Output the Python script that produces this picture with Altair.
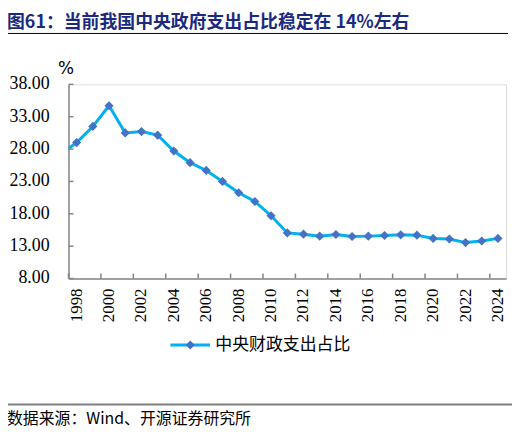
import altair as alt
import pandas as pd

# ---- data ----
years = list(range(1997, 2025))
share = [27.2, 29.0, 31.5, 34.7, 30.5, 30.7, 30.15, 27.7, 25.9, 24.7, 23.0,
         21.25, 19.9, 17.7, 15.05, 14.85, 14.55, 14.8, 14.5, 14.55, 14.65,
         14.75, 14.7, 14.2, 14.1, 13.55, 13.8, 14.2]
x_label_years = list(range(1998, 2025, 2))
x_tick_bounds = [1997.5 + 2 * k for k in range(14)]
y_ticks = [8, 13, 18, 23, 28, 33, 38]

title_text = "图61：当前我国中央政府支出占比稳定在 14%左右"
series_name = "中央财政支出占比"
source_text = "数据来源：Wind、开源证券研究所"

W, H = 441, 195.7
AXIS_GRAY = "#868686"
LINE_COLOR = "#00B0F0"
MARK_COLOR = "#4472C4"
CJK = "Noto Sans CJK SC"
SERIF = "Liberation Serif"

df = pd.DataFrame({"year": years, "share": share})
pts = df[df["year"] >= 1998]

xscale = alt.Scale(domain=[1997.5, 2024.5], nice=False, zero=False)
yscale = alt.Scale(domain=[8, 38], nice=False, zero=False)

xaxis = alt.Axis(values=x_label_years, labels=False, ticks=False, grid=False,
                 domainColor=AXIS_GRAY, domainWidth=1.5, title=None)
yaxis = alt.Axis(values=y_ticks, labels=False, ticks=False, grid=False,
                 domainColor=AXIS_GRAY, domainWidth=1.5,
                 title="%", titleAngle=0, titleX=-3, titleY=-16,
                 titleAlign="center", titleBaseline="middle",
                 titleFont="DejaVu Sans", titleFontSize=17,
                 titleFontWeight="normal", titleColor="#000000")

line = alt.Chart(df).mark_line(color=LINE_COLOR, strokeWidth=3, clip=True).encode(
    x=alt.X("year:Q", scale=xscale, axis=xaxis),
    y=alt.Y("share:Q", scale=yscale, axis=yaxis),
)
points = alt.Chart(pts).mark_point(shape="diamond", filled=True, color=MARK_COLOR,
                                   size=85, opacity=1).encode(
    x=alt.X("year:Q", scale=xscale, axis=xaxis),
    y=alt.Y("share:Q", scale=yscale, axis=yaxis),
)

# tick marks (inward) and tick labels, positioned through the scales
xt = alt.Chart(pd.DataFrame({"b": x_tick_bounds})).mark_rule(
    color=AXIS_GRAY, strokeWidth=1.5).encode(
    x=alt.X("b:Q", scale=xscale, axis=xaxis), y=alt.value(H - 5), y2=alt.value(H))
yt = alt.Chart(pd.DataFrame({"v": y_ticks})).mark_rule(
    color=AXIS_GRAY, strokeWidth=1.5).encode(
    y=alt.Y("v:Q", scale=yscale, axis=yaxis), x=alt.value(0), x2=alt.value(5))

xl = alt.Chart(pd.DataFrame({"yr": x_label_years})).mark_text(
    angle=270, align="right", baseline="middle", font=SERIF, fontSize=17,
    color="#000000").encode(
    x=alt.X("yr:Q", scale=xscale, axis=xaxis), y=alt.value(H + 10),
    text=alt.Text("yr:Q", format="d"))
yl = alt.Chart(pd.DataFrame({"v": y_ticks})).mark_text(
    align="right", baseline="middle", font=SERIF, fontSize=18,
    color="#000000").encode(
    y=alt.Y("v:Q", scale=yscale, axis=yaxis), x=alt.value(-19),
    text=alt.Text("v:Q", format=".2f"))

one = pd.DataFrame({"t": [title_text]})
title = alt.Chart(one).mark_text(align="left", baseline="middle", font=CJK,
                                 fontSize=18, fontWeight="bold", color="#1B2A7E").encode(
    text="t:N", x=alt.value(-62), y=alt.value(-61.8))
title_rule = alt.Chart(one).mark_rule(color="#000000", strokeWidth=1).encode(
    x=alt.value(-63), x2=alt.value(443), y=alt.value(-51.3))

leg = pd.DataFrame({"t": [series_name]})
leg_line = alt.Chart(leg).mark_rule(color=LINE_COLOR, strokeWidth=3).encode(
    x=alt.value(102.7), x2=alt.value(142.7), y=alt.value(262.7))
leg_pt = alt.Chart(leg).mark_point(shape="diamond", filled=True, color=MARK_COLOR,
                                   size=85, opacity=1).encode(
    x=alt.value(122.7), y=alt.value(262.7))
leg_txt = alt.Chart(leg).mark_text(align="left", baseline="middle", font=CJK,
                                   fontSize=17, color="#000000").encode(
    text="t:N", x=alt.value(148), y=alt.value(262.7))

src = pd.DataFrame({"t": [source_text]})
foot_rule = alt.Chart(src).mark_rule(color="#7F7F7F", strokeWidth=2).encode(
    x=alt.value(-63), x2=alt.value(447), y=alt.value(322.7))
foot_txt = alt.Chart(src).mark_text(align="left", baseline="middle", font=CJK,
                                    fontSize=16, color="#000000").encode(
    text="t:N", x=alt.value(-62), y=alt.value(337.2))

chart = alt.layer(line, points, xt, yt, xl, yl, title, title_rule, leg_line,
                  leg_pt, leg_txt, foot_rule, foot_txt).properties(
    width=W, height=H,
    autosize=alt.AutoSizeParams(type="none"),
    padding={"left": 61, "top": 75.3, "right": 8, "bottom": 150},
).configure_view(stroke=None).configure(background="#FFFFFF")

chart.save("out.html", embed_options={"renderer": "svg", "actions": False})
